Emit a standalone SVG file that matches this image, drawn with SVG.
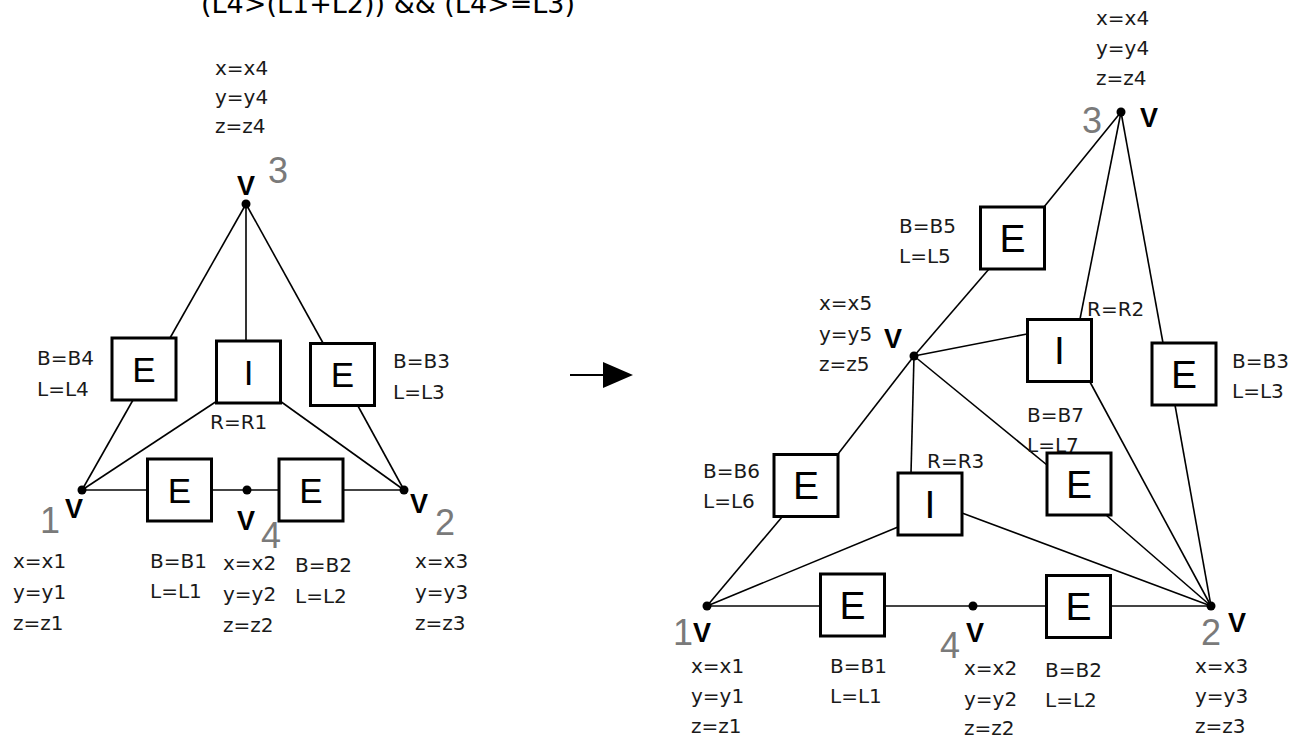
<svg xmlns="http://www.w3.org/2000/svg" width="1304" height="740" viewBox="0 0 1304 740">
  <style>
    .lbl { font-family: "DejaVu Sans", "Liberation Sans", sans-serif; font-size: 20px; fill: #1a1a1a; }
    .vtx { font-family: "Liberation Sans", Arial, sans-serif; font-size: 27px; font-weight: bold; fill: #000; }
    .num { font-family: "Liberation Sans", Arial, sans-serif; font-size: 36px; fill: #7a7a7a; }
    .box { fill: #fff; stroke: #000; stroke-width: 3; }
    .sym { font-family: "Liberation Sans", Arial, sans-serif; fill: #000; text-anchor: middle; }
    .edge { stroke: #000; stroke-width: 1.6; fill: none; }
    .base { stroke: #444; stroke-width: 2; fill: none; }
    .dot { fill: #000; }
    .title { font-family: "DejaVu Sans", "Liberation Sans", sans-serif; font-size: 27px; fill: #000; }
  </style>
  <defs>
    <rect id="sq" x="-32" y="-31" width="64" height="62" class="box"/>
  </defs>
  <rect width="1304" height="740" fill="#fff"/>

  <text class="title" x="201" y="13">(L4&gt;(L1+L2)) &amp;&amp; (L4&gt;=L3)</text>

  <!-- connectors -->
  <g id="connectors">
    <!-- left graph -->
    <line class="base" x1="82" y1="490" x2="404" y2="490"/>
    <line class="edge" x1="246" y1="204" x2="170" y2="338"/>
    <line class="edge" x1="246" y1="204" x2="246" y2="342"/>
    <line class="edge" x1="246" y1="204" x2="323" y2="343"/>
    <line class="edge" x1="133" y1="400" x2="82" y2="490"/>
    <line class="edge" x1="217" y1="401" x2="82" y2="490"/>
    <line class="edge" x1="280" y1="401" x2="404" y2="490"/>
    <line class="edge" x1="358" y1="406" x2="404" y2="490"/>
    <!-- arrow -->
    <line x1="570" y1="375" x2="606" y2="375" stroke="#000" stroke-width="2"/>
    <polygon points="603,362 633,375 603,388" fill="#000"/>
    <!-- right graph -->
    <line class="base" x1="707" y1="606" x2="1211" y2="606"/>
    <line class="edge" x1="1121" y1="112" x2="1044" y2="207"/>
    <line class="edge" x1="989" y1="269" x2="914" y2="356"/>
    <line class="edge" x1="1121" y1="112" x2="1080" y2="319"/>
    <line class="edge" x1="1121" y1="112" x2="1163" y2="343"/>
    <line class="edge" x1="914" y1="356" x2="1027" y2="334"/>
    <line class="edge" x1="914" y1="356" x2="838" y2="454"/>
    <line class="edge" x1="914" y1="356" x2="911" y2="473"/>
    <line class="edge" x1="914" y1="356" x2="1047" y2="465"/>
    <line class="edge" x1="782" y1="517" x2="707" y2="606"/>
    <line class="edge" x1="898" y1="527" x2="707" y2="606"/>
    <line class="edge" x1="962" y1="513" x2="1211" y2="606"/>
    <line class="edge" x1="1106" y1="515" x2="1211" y2="606"/>
    <line class="edge" x1="1090" y1="382" x2="1211" y2="606"/>
    <line class="edge" x1="1175" y1="405" x2="1211" y2="606"/>
  </g>

  <!-- left graph: vertices -->
  <g id="L-v3">
    <circle class="dot" cx="246" cy="204" r="4.5"/>
    <text class="vtx" x="237" y="195">V</text>
    <text class="num" x="268" y="183">3</text>
    <text class="lbl" x="215" y="75">x=x4</text>
    <text class="lbl" x="215" y="104">y=y4</text>
    <text class="lbl" x="215" y="133">z=z4</text>
  </g>
  <g id="L-v1">
    <circle class="dot" cx="82" cy="490" r="4.5"/>
    <text class="vtx" x="65" y="518">V</text>
    <text class="num" x="40" y="533">1</text>
    <text class="lbl" x="13" y="568">x=x1</text>
    <text class="lbl" x="13" y="599">y=y1</text>
    <text class="lbl" x="13" y="630">z=z1</text>
  </g>
  <g id="L-v4">
    <circle class="dot" cx="247" cy="490" r="4.5"/>
    <text class="vtx" x="237" y="530">V</text>
    <text class="num" x="261" y="548">4</text>
    <text class="lbl" x="223" y="570">x=x2</text>
    <text class="lbl" x="223" y="601">y=y2</text>
    <text class="lbl" x="223" y="632">z=z2</text>
  </g>
  <g id="L-v2">
    <circle class="dot" cx="404" cy="490" r="4.5"/>
    <text class="vtx" x="410" y="513">V</text>
    <text class="num" x="435" y="535">2</text>
    <text class="lbl" x="415" y="568">x=x3</text>
    <text class="lbl" x="415" y="599">y=y3</text>
    <text class="lbl" x="415" y="630">z=z3</text>
  </g>

  <!-- left graph: edge / interior nodes -->
  <g id="L-e4">
    <use href="#sq" x="144" y="369"/>
    <text class="sym" x="144" y="382" font-size="35">E</text>
    <text class="lbl" x="37" y="365">B=B4</text>
    <text class="lbl" x="37" y="396">L=L4</text>
  </g>
  <g id="L-i1">
    <use href="#sq" x="248.5" y="372"/>
    <text class="sym" x="248.5" y="385" font-size="35">I</text>
    <text class="lbl" x="210" y="429">R=R1</text>
  </g>
  <g id="L-e3">
    <use href="#sq" x="342.5" y="374.5"/>
    <text class="sym" x="342.5" y="387" font-size="35">E</text>
    <text class="lbl" x="393" y="368">B=B3</text>
    <text class="lbl" x="393" y="399">L=L3</text>
  </g>
  <g id="L-e1">
    <use href="#sq" x="179.5" y="490"/>
    <text class="sym" x="179.5" y="503" font-size="35">E</text>
    <text class="lbl" x="150" y="568">B=B1</text>
    <text class="lbl" x="150" y="598">L=L1</text>
  </g>
  <g id="L-e2">
    <use href="#sq" x="311" y="490"/>
    <text class="sym" x="311" y="503" font-size="35">E</text>
    <text class="lbl" x="295" y="572">B=B2</text>
    <text class="lbl" x="295" y="603">L=L2</text>
  </g>

  <!-- right graph: vertices -->
  <g id="R-v3">
    <circle class="dot" cx="1121" cy="112" r="4.5"/>
    <text class="vtx" x="1140" y="127">V</text>
    <text class="num" x="1082" y="133">3</text>
    <text class="lbl" x="1096" y="25">x=x4</text>
    <text class="lbl" x="1096" y="55">y=y4</text>
    <text class="lbl" x="1096" y="85">z=z4</text>
  </g>
  <g id="R-v5">
    <circle class="dot" cx="914" cy="356" r="4.5"/>
    <text class="vtx" x="884" y="348">V</text>
    <text class="lbl" x="819" y="310">x=x5</text>
    <text class="lbl" x="819" y="341">y=y5</text>
    <text class="lbl" x="819" y="371">z=z5</text>
  </g>
  <g id="R-v1">
    <circle class="dot" cx="707" cy="606" r="4.5"/>
    <text class="vtx" x="693" y="642">V</text>
    <text class="num" x="673" y="645">1</text>
    <text class="lbl" x="691" y="673">x=x1</text>
    <text class="lbl" x="691" y="703">y=y1</text>
    <text class="lbl" x="691" y="733">z=z1</text>
  </g>
  <g id="R-v4">
    <circle class="dot" cx="973" cy="606" r="4.5"/>
    <text class="vtx" x="966" y="642">V</text>
    <text class="num" x="940" y="658">4</text>
    <text class="lbl" x="964" y="675">x=x2</text>
    <text class="lbl" x="964" y="706">y=y2</text>
    <text class="lbl" x="964" y="735">z=z2</text>
  </g>
  <g id="R-v2">
    <circle class="dot" cx="1211" cy="606" r="4.5"/>
    <text class="vtx" x="1228" y="632">V</text>
    <text class="num" x="1201" y="645">2</text>
    <text class="lbl" x="1195" y="673">x=x3</text>
    <text class="lbl" x="1195" y="703">y=y3</text>
    <text class="lbl" x="1195" y="733">z=z3</text>
  </g>

  <!-- right graph: edge / interior nodes -->
  <g id="R-e5">
    <use href="#sq" x="1012.5" y="238"/>
    <text class="sym" x="1012.5" y="252" font-size="39">E</text>
    <text class="lbl" x="899" y="233">B=B5</text>
    <text class="lbl" x="899" y="263">L=L5</text>
  </g>
  <g id="R-i2">
    <use href="#sq" x="1059.5" y="350.5"/>
    <text class="sym" x="1059.5" y="364" font-size="39">I</text>
    <text class="lbl" x="1087" y="316">R=R2</text>
  </g>
  <g id="R-e3">
    <use href="#sq" x="1184" y="374"/>
    <text class="sym" x="1184" y="388" font-size="39">E</text>
    <text class="lbl" x="1232" y="368">B=B3</text>
    <text class="lbl" x="1232" y="398">L=L3</text>
  </g>
  <g id="R-e7">
    <text class="lbl" x="1027" y="422">B=B7</text>
    <text class="lbl" x="1027" y="452">L=L7</text>
    <use href="#sq" x="1079" y="484"/>
    <text class="sym" x="1079" y="498" font-size="39">E</text>
  </g>
  <g id="R-e6">
    <use href="#sq" x="806" y="485.5"/>
    <text class="sym" x="806" y="499" font-size="39">E</text>
    <text class="lbl" x="703" y="478">B=B6</text>
    <text class="lbl" x="703" y="508">L=L6</text>
  </g>
  <g id="R-i3">
    <use href="#sq" x="930" y="504"/>
    <text class="sym" x="930" y="518" font-size="39">I</text>
    <text class="lbl" x="927" y="468">R=R3</text>
  </g>
  <g id="R-e1">
    <use href="#sq" x="852.5" y="605"/>
    <text class="sym" x="852.5" y="619" font-size="39">E</text>
    <text class="lbl" x="830" y="673">B=B1</text>
    <text class="lbl" x="830" y="703">L=L1</text>
  </g>
  <g id="R-e2">
    <use href="#sq" x="1078.5" y="606.5"/>
    <text class="sym" x="1078.5" y="620" font-size="39">E</text>
    <text class="lbl" x="1045" y="677">B=B2</text>
    <text class="lbl" x="1045" y="707">L=L2</text>
  </g>
</svg>
